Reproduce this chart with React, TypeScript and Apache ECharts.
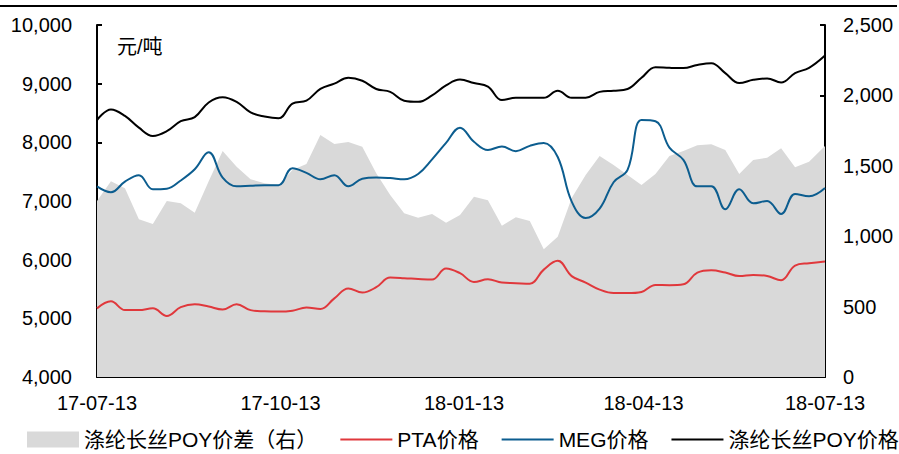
import React, { useEffect, useRef } from "react";
import * as echarts from "echarts";

// Weekly observation dates (x domain): 2017-07-13 .. 2018-07-13
const START = Date.UTC(2017, 6, 13);
const END = Date.UTC(2018, 6, 13);
const DAY = 86400000;
const weekDates: number[] = Array.from({ length: 53 }, (_, i) => (i === 52 ? END : START + i * 7 * DAY));

// x-axis tick labels
const tickDates = ["2017-07-13", "2017-10-13", "2018-01-13", "2018-04-13", "2018-07-13"];

// 涤纶长丝POY价差（右） (right axis)
const poySpread = [
  1250, 1390, 1340, 1120, 1087, 1250, 1234, 1167, 1390, 1605,
  1494, 1404, 1376, 1364, 1470, 1513, 1719, 1655, 1669, 1636,
  1447, 1293, 1163, 1131, 1158, 1096, 1150, 1280, 1255, 1075,
  1134, 1108, 907, 996, 1271, 1435, 1570, 1506, 1435, 1364,
  1442, 1570, 1605, 1646, 1653, 1612, 1442, 1541, 1558, 1624,
  1489, 1529, 1641,
];

// PTA价格
const ptaPrice = [
  5170, 5290, 5140, 5140, 5170, 5040, 5190, 5240, 5200, 5150,
  5240, 5140, 5120, 5115, 5130, 5185, 5160, 5340, 5510, 5440,
  5530, 5695, 5685, 5670, 5660, 5850, 5770, 5620, 5665, 5610,
  5600, 5590, 5830, 5980, 5720, 5610, 5490, 5430, 5430, 5450,
  5570, 5565, 5580, 5780, 5820, 5780, 5720, 5740, 5720, 5650,
  5900, 5940, 5970,
];

// MEG价格
const megPrice = [
  7250, 7150, 7330, 7440, 7200, 7210, 7350, 7540, 7830, 7400,
  7250, 7260, 7270, 7270, 7560, 7480, 7370, 7440, 7250, 7380,
  7400, 7390, 7370, 7460, 7710, 7990, 8250, 8010, 7870, 7930,
  7850, 7940, 7990, 7750, 6990, 6710, 6870, 7320, 7530, 8380,
  8360, 7910, 7700, 7250, 7250, 6860, 7200, 6960, 7000, 6780,
  7120, 7080, 7220,
];

// 涤纶长丝POY价格
const poyPrice = [
  8380, 8560, 8450, 8250, 8110, 8190, 8360, 8430, 8680, 8770,
  8690, 8510, 8440, 8410, 8660, 8710, 8910, 9000, 9100, 9050,
  8910, 8860, 8710, 8690, 8800, 8970, 9070, 9010, 8950, 8720,
  8760, 8760, 8760, 8880, 8760, 8760, 8860, 8880, 8910, 9100,
  9280, 9270, 9265, 9320, 9350, 9180, 9010, 9065, 9090, 9020,
  9180, 9270, 9480,
];

const FONT = 'Arial, "Liberation Sans", "Noto Sans CJK SC", sans-serif';
const LINE_ICON = "path://M0,0H26V1H0Z";

const dayOf = (t: number) => Math.round((t - START) / DAY);
const pair = (vals: number[]) => vals.map((v, i) => [dayOf(weekDates[i]), v]);

const tickDays = tickDates.map((s) => {
  const [y, m, d] = s.split("-").map(Number);
  return dayOf(Date.UTC(y, m - 1, d));
});

const fmtDay = (day: number) => {
  const d = new Date(START + Math.round(day) * DAY);
  const yy = String(d.getUTCFullYear() % 100).padStart(2, "0");
  const mm = String(d.getUTCMonth() + 1).padStart(2, "0");
  const dd = String(d.getUTCDate()).padStart(2, "0");
  return `${yy}-${mm}-${dd}`;
};

export default function App() {
  const ref = useRef<HTMLDivElement>(null);
  useEffect(() => {
    if (!ref.current) return;
    const chart = echarts.init(ref.current, undefined, { renderer: "svg" });
    const axisLine = { show: true, lineStyle: { color: "#000", width: 2 } };
    const axisTick = { show: true, inside: true, length: 5, lineStyle: { color: "#000", width: 2 } };
    const numFmt = (v: number) => v.toLocaleString("en-US");
    chart.setOption({
      animation: false,
      backgroundColor: "#fff",
      textStyle: { fontFamily: FONT },
      grid: { left: 97, right: 74, top: 25, bottom: 77, containLabel: false, outerBoundsMode: "none" },
      legend: {
        left: 27,
        top: 429,
        itemWidth: 52,
        itemHeight: 16,
        itemGap: 23,
        padding: 0,
        textStyle: { fontSize: 21, color: "#000", fontFamily: FONT },
        data: [
          { name: "涤纶长丝POY价差（右）", icon: "rect", itemStyle: { color: "#d9d9d9" } },
          { name: "PTA价格", icon: LINE_ICON },
          { name: "MEG价格", icon: LINE_ICON },
          { name: "涤纶长丝POY价格", icon: LINE_ICON },
        ],
      },
      xAxis: {
        type: "value",
        min: tickDays[0],
        max: tickDays[tickDays.length - 1],
        axisLine,
        axisTick: { ...axisTick, customValues: tickDays },
        splitLine: { show: false },
        axisLabel: {
          customValues: tickDays,
          formatter: (v: number) => fmtDay(v),
          fontSize: 20,
          color: "#000",
          margin: 16,
          fontFamily: FONT,
          showMinLabel: true,
          showMaxLabel: true,
        },
      },
      yAxis: [
        {
          type: "value",
          min: 4000,
          max: 10000,
          interval: 1000,
          axisLine,
          axisTick,
          splitLine: { show: false },
          axisLabel: { formatter: numFmt, fontSize: 20, color: "#000", margin: 25, fontFamily: FONT },
        },
        {
          type: "value",
          min: 0,
          max: 2500,
          interval: 500,
          position: "right",
          axisLine,
          axisTick,
          splitLine: { show: false },
          axisLabel: { formatter: numFmt, fontSize: 20, color: "#000", margin: 18, fontFamily: FONT },
        },
      ],
      graphic: [
        { type: "rect", left: 0, top: 5, shape: { width: 897, height: 2 }, style: { fill: "#000" }, z: 100 },
        {
          type: "text",
          left: 117,
          top: 37,
          style: { text: "元/吨", fontSize: 20, fill: "#000", fontFamily: FONT },
          z: 100,
        },
      ],
      series: [
        {
          name: "涤纶长丝POY价差（右）",
          type: "line",
          yAxisIndex: 1,
          data: pair(poySpread),
          symbol: "none",
          lineStyle: { width: 0, color: "#d9d9d9" },
          itemStyle: { color: "#d9d9d9" },
          areaStyle: { color: "#d9d9d9", opacity: 1 },
          z: 1,
        },
        {
          name: "PTA价格",
          type: "line",
          data: pair(ptaPrice),
          symbol: "none",
          smooth: 0.4,
          lineStyle: { width: 2, color: "#e0383c" },
          itemStyle: { color: "#e0383c" },
          z: 3,
        },
        {
          name: "MEG价格",
          type: "line",
          data: pair(megPrice),
          symbol: "none",
          smooth: 0.4,
          lineStyle: { width: 2, color: "#0c5d8f" },
          itemStyle: { color: "#0c5d8f" },
          z: 3,
        },
        {
          name: "涤纶长丝POY价格",
          type: "line",
          data: pair(poyPrice),
          symbol: "none",
          smooth: 0.4,
          lineStyle: { width: 2, color: "#000" },
          itemStyle: { color: "#000" },
          z: 3,
        },
      ],
    });
    return () => chart.dispose();
  }, []);
  return (
    <div
      ref={ref}
      style={{ position: "fixed", left: 0, top: 0, width: 899, height: 454, background: "#fff" }}
    />
  );
}
